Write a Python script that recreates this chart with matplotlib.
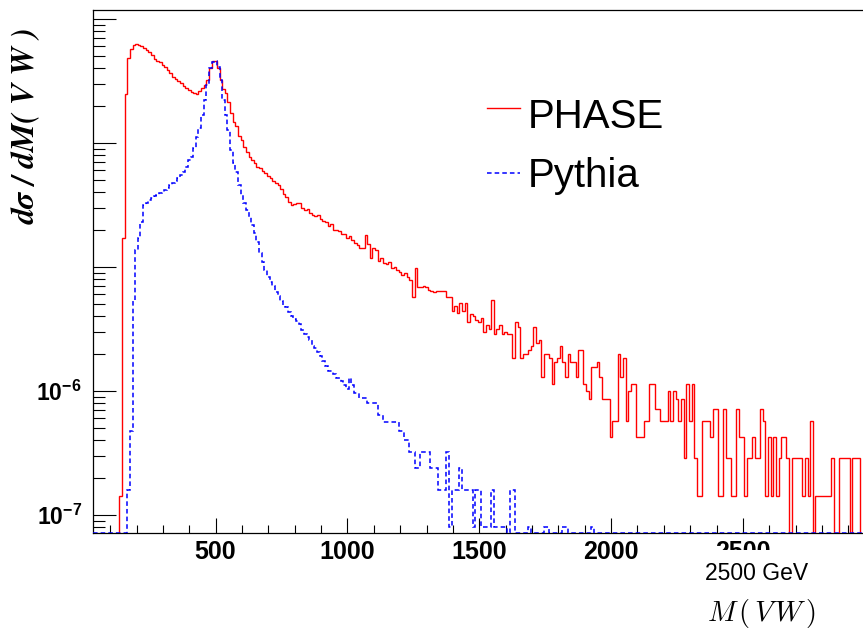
import numpy as np
import matplotlib.pyplot as plt
from matplotlib.lines import Line2D
from matplotlib.patches import Rectangle
from matplotlib.ticker import LogLocator, NullFormatter

plt.rcParams['font.family'] = ['Liberation Sans', 'DejaVu Sans']
plt.rcParams['mathtext.fontset'] = 'custom'
plt.rcParams['mathtext.rm'] = 'Liberation Sans:bold'
plt.rcParams['mathtext.bf'] = 'Liberation Sans:bold'
plt.rcParams['mathtext.it'] = 'Liberation Sans:bold'

# histogram binning (GeV)
bin_width = 10
x_lo, x_hi = 35, 3035

# PHASE: event counts per bin, first bin starts at 135 GeV
phase_start = 135
phase_weight = 1.43e-7
phase_counts = [
    1, 119, 1727, 3365, 3985, 4290, 4380, 4290, 4200, 4050,
    3900, 3760, 3550, 3300, 3200, 3125, 2950, 2850, 2700, 2550,
    2400, 2300, 2200, 2115, 2000, 1930, 1860, 1790, 1770, 1750,
    1850, 1950, 2040, 2240, 2800, 3190, 3200, 2800, 2240, 1900,
    1760, 1490, 1210, 1025, 950, 800, 734, 650, 588, 540,
    506, 480, 450, 436, 415, 398, 380, 362, 345, 330,
    318, 295, 270, 255, 235, 219, 225, 228, 228, 210,
    200, 205, 190, 185, 180, 185, 170, 165, 160, 150,
    155, 140, 138, 137, 130, 128, 120, 125, 115, 110,
    105, 99, 100, 126, 108, 82, 100, 95, 78, 82,
    75, 74, 76, 68, 70, 66, 64, 60, 62, 58,
    55, 40, 69, 48, 48, 49, 48, 46, 45, 44,
    45, 45, 45, 45, 40, 40, 31, 34, 30, 36,
    31, 36, 25, 29, 28, 26, 25, 27, 21, 24,
    22, 38, 20, 22, 24, 20, 21, 20, 20, 13,
    25, 23, 13, 14, 14, 15, 16, 23, 17, 18,
    9, 14, 14, 13, 8, 12, 13, 16, 12, 9,
    14, 12, 12, 9, 15, 15, 8, 7, 6, 11,
    11, 12, 9, 6, 6, 6, 3, 4, 4, 14,
    9, 13, 4, 7, 8, 8, 3, 3, 3, 4,
    4, 8, 8, 5, 5, 4, 4, 4, 7, 4,
    7, 6, 4, 6, 2, 8, 4, 8, 2, 1,
    1, 4, 4, 4, 3, 5, 5, 1, 1, 5,
    2, 2, 1, 1, 5, 3, 3, 1, 2, 2,
    3, 2, 2, 5, 4, 1, 3, 1, 3, 1,
    2, 3, 3, 2, 0, 2, 2, 2, 2, 1,
    2, 1, 4, 0, 1, 1, 1, 1, 1, 1,
    2, 0, 0, 2, 2, 2, 2, 0, 2, 2,
    2, 0,
]

# Pythia: event counts per bin, first bin starts at 165 GeV
pythia_start = 165
pythia_weight = 8.0e-8
pythia_counts = [
    2, 6, 67, 170, 213, 286, 392, 408, 430, 448,
    467, 474, 498, 507, 519, 537, 569, 591, 619, 648,
    686, 734, 806, 906, 959, 1133, 1389, 1643, 2091, 2760,
    3646, 5003, 5594, 5703, 5102, 4002, 2760, 2091, 1582, 1092,
    857, 725, 569, 473, 408, 358, 315, 272, 234, 197,
    161, 136, 118, 103, 95, 88, 78, 73, 67, 62,
    59, 54, 50, 48, 46, 43, 39, 36, 34, 32,
    29, 28, 26, 24, 22, 20, 18, 18, 17, 16,
    16, 15, 14, 13, 16, 14, 12, 12, 11, 11,
    11, 10, 10, 10, 10, 8, 8, 7, 7, 7,
    7, 7, 7, 6, 6, 5, 5, 4, 4, 3,
    3, 4, 4, 4, 4, 3, 3, 3, 2, 2,
    2, 4, 1, 2, 2, 2, 3, 2, 2, 2,
    2, 1, 2, 2, 1, 1, 1, 1, 2, 1,
    1, 1, 1, 1, 0, 2, 2, 0, 0, 0,
    0, 0, 1, 0, 0, 0, 0, 0, 1, 1,
    0, 0, 0, 0, 0, 1, 1, 0, 0, 0,
    0, 0, 0, 0, 0, 0, 1,
]

y_lo, y_hi = 7.16e-8, 1.18e-3

edges = np.arange(x_lo, x_hi + bin_width, bin_width)


def to_values(start, counts, weight, floor):
    vals = np.zeros(len(edges) - 1)
    k = (start - x_lo) // bin_width
    vals[k:k + len(counts)] = np.array(counts, dtype=float) * weight
    return np.where(vals > 0, vals, floor)


phase_vals = to_values(phase_start, phase_counts, phase_weight, y_lo * 0.5)
pythia_vals = to_values(pythia_start, pythia_counts, pythia_weight, y_lo)

W, H = 863, 632
fig = plt.figure(figsize=(W / 100, H / 100), dpi=100)
ax = fig.add_axes([93 / W, 99 / H, (884 - 93) / W, (533 - 10) / H])

ax.stairs(phase_vals, edges, baseline=None, color='#ff0000', lw=1.0, zorder=3)
ax.stairs(pythia_vals, edges, baseline=None, color='#0000ff', lw=1.1,
          linestyle=(0, (3, 2)), zorder=3.1)

ax.set_yscale('log')
ax.set_xlim(x_lo, x_hi)
ax.set_ylim(y_lo, y_hi)

for s in ax.spines.values():
    s.set_linewidth(0.9)

ax.set_xticks([500, 1000, 1500, 2000, 2500, 3000])
ax.set_xticklabels(['500', '1000', '1500', '2000', '2500', ''],
                   fontweight='bold', fontsize=18)
ax.set_xticks(np.arange(100, 3001, 100), minor=True)
ax.tick_params(axis='x', which='major', direction='in', length=10.8, width=0.8, pad=5)
ax.tick_params(axis='x', which='minor', direction='in', length=5.8, width=0.8)

ax.set_yticks([1e-7, 1e-6, 1e-5, 1e-4, 1e-3])
ax.set_yticklabels([r'$\mathbf{10^{-7}}$', r'$\mathbf{10^{-6}}$', '', '', ''], fontsize=16.5)
ax.yaxis.set_minor_locator(LogLocator(base=10, subs=np.arange(2, 10)))
ax.yaxis.set_minor_formatter(NullFormatter())
ax.tick_params(axis='y', which='major', direction='in', length=16.5, width=0.8, pad=8)
ax.tick_params(axis='y', which='minor', direction='in', length=8.6, width=0.8)

# white box hiding the lower half of the "2500" label
fig.add_artist(Rectangle((690 / W, 34 / H), 150 / W, 48 / H, transform=fig.transFigure,
                         facecolor='white', edgecolor='none', zorder=5))
fig.text(705 / W, 1 - 573 / H, '2500 GeV', fontsize=16.5, va='center', ha='left', zorder=6)
fig.text(707 / W, 1 - 613 / H, r'$M\,(\,V\,W\,)$', math_fontfamily='cm', fontsize=20.5,
         va='center', ha='left', zorder=6)

fig.text(27 / W, 1 - 28 / H, 'dσ / dM( V W )', rotation=90, ha='center', va='top',
         fontsize=23, family='STIXGeneral', style='italic', weight='bold')

# legend
fig.add_artist(Line2D([487 / W, 520 / W], [1 - 108 / H] * 2, color='#ff0000', lw=1.0))
fig.text(528 / W, 1 - 128 / H, 'PHASE', fontsize=29, va='baseline', ha='left')
fig.add_artist(Line2D([487 / W, 520 / W], [1 - 173 / H] * 2, color='#0000ff', lw=1.1,
                      linestyle=(0, (3, 2))))
fig.text(528 / W, 1 - 187 / H, 'Pythia', fontsize=29, va='baseline', ha='left')

fig.savefig('out.png', dpi=100)
